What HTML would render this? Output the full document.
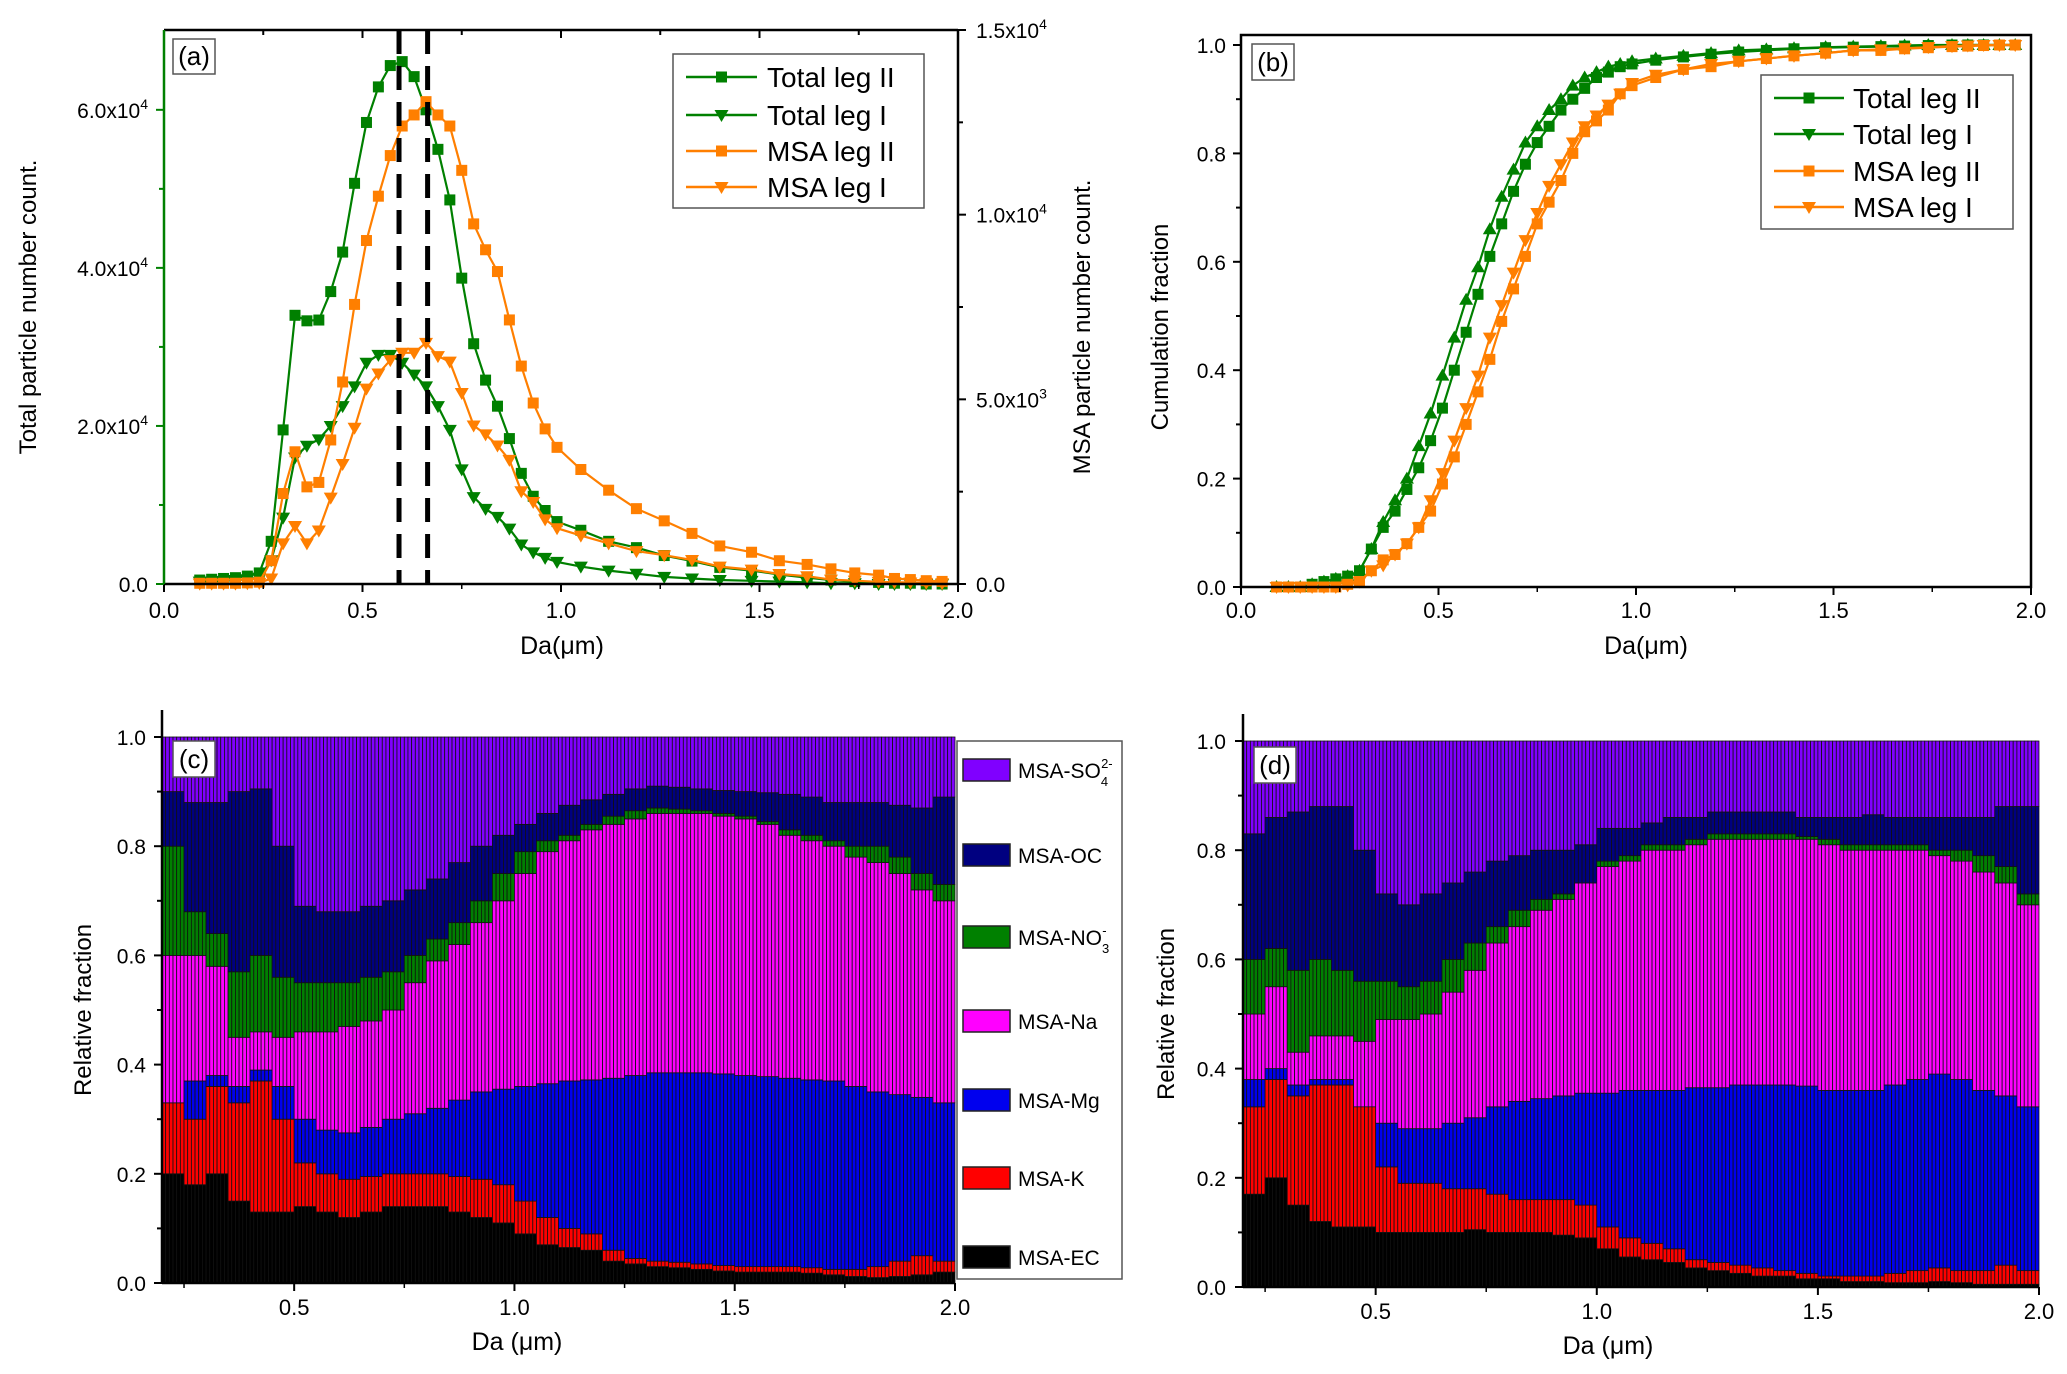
<!DOCTYPE html>
<html><head><meta charset="utf-8"><style>
html,body{margin:0;padding:0;background:#fff;}
svg{display:block;font-family:"Liberation Sans",Arial,sans-serif;}
</style></head><body>
<svg id="root" width="2067" height="1374" viewBox="0 0 2067 1374" xmlns="http://www.w3.org/2000/svg"></svg>
<script>
// ===== Panel (a)/(b) data =====
const daA = [0.09,0.12,0.15,0.18,0.21,0.24,0.27,0.30,0.33,0.36,0.39,0.42,0.45,0.48,0.51,0.54,0.57,0.60,0.63,0.66,0.69,0.72,0.75,0.78,0.81,0.84,0.87,0.90,0.93,0.96,0.99,1.05,1.12,1.19,1.26,1.33,1.40,1.48,1.55,1.62,1.68,1.74,1.80,1.84,1.88,1.92,1.96];
const totalLeg2 = [0.05,0.06,0.07,0.08,0.1,0.14,0.54,1.95,3.4,3.33,3.34,3.7,4.2,5.07,5.84,6.29,6.56,6.61,6.42,6.0,5.5,4.86,3.87,3.04,2.58,2.25,1.84,1.4,1.11,0.93,0.79,0.68,0.54,0.46,0.36,0.29,0.21,0.17,0.12,0.08,0.05,0.03,0.02,0.01,0.01,0,0]; // x1e4
const totalLeg1 = [0.03,0.03,0.04,0.05,0.06,0.08,0.3,0.84,1.6,1.75,1.83,2.0,2.25,2.5,2.8,2.9,2.9,2.8,2.65,2.5,2.25,1.95,1.45,1.1,0.95,0.85,0.7,0.5,0.4,0.33,0.28,0.22,0.17,0.13,0.09,0.07,0.05,0.04,0.03,0.02,0.01,0.01,0,0,0,0,0]; // x1e4
const msaLeg2 = [0.02,0.02,0.02,0.02,0.03,0.05,0.63,2.45,3.58,2.63,2.75,3.9,5.47,7.57,9.3,10.5,11.6,12.4,12.7,13.06,12.7,12.4,11.2,9.75,9.05,8.46,7.15,5.9,4.9,4.2,3.7,3.1,2.54,2.04,1.71,1.37,1.03,0.86,0.63,0.53,0.41,0.30,0.24,0.15,0.12,0.09,0.07]; // x1e3
const msaLeg1 = [0.01,0.01,0.01,0.01,0.02,0.03,0.15,1.1,1.57,1.1,1.45,2.34,3.25,4.23,5.29,5.7,6.06,6.26,6.26,6.53,6.17,6.02,5.17,4.29,4.05,3.75,3.36,2.51,2.22,1.75,1.51,1.31,1.1,0.89,0.78,0.65,0.47,0.39,0.27,0.21,0.12,0.09,0.06,0.05,0.04,0.03,0.02]; // x1e3
const modeLines = [0.592, 0.664];
const cumTotal2 = [0,0,0,0.005,0.01,0.015,0.02,0.03,0.07,0.11,0.14,0.18,0.22,0.27,0.33,0.40,0.47,0.54,0.61,0.67,0.73,0.78,0.82,0.85,0.88,0.90,0.92,0.94,0.95,0.96,0.965,0.972,0.978,0.983,0.987,0.99,0.993,0.995,0.996,0.997,0.998,0.999,1,1,1,1,1];
const cumTotal1 = [0,0,0,0.005,0.01,0.015,0.02,0.03,0.07,0.12,0.16,0.20,0.26,0.32,0.39,0.46,0.53,0.59,0.66,0.72,0.77,0.82,0.85,0.88,0.90,0.925,0.94,0.95,0.96,0.965,0.97,0.975,0.98,0.985,0.99,0.992,0.994,0.996,0.997,0.998,0.999,1,1,1,1,1,1];
const cumMsa2 = [0,0,0,0,0,0,0.005,0.01,0.03,0.05,0.06,0.08,0.11,0.14,0.19,0.24,0.30,0.36,0.42,0.49,0.55,0.61,0.67,0.71,0.75,0.80,0.84,0.86,0.88,0.91,0.925,0.94,0.955,0.96,0.97,0.975,0.98,0.985,0.99,0.99,0.993,0.995,0.997,0.998,0.999,1,1];
const cumMsa1 = [0,0,0,0,0,0,0.003,0.01,0.03,0.04,0.06,0.08,0.11,0.16,0.21,0.27,0.33,0.39,0.46,0.52,0.58,0.64,0.69,0.74,0.78,0.82,0.85,0.87,0.89,0.91,0.93,0.945,0.955,0.965,0.97,0.975,0.98,0.985,0.99,0.992,0.994,0.996,0.998,0.999,1,1,1];

// ===== Panels (c)/(d) data: bar left edges and cumulative boundaries =====
const binStart = [0.20,0.25,0.30,0.35,0.40,0.45,0.50,0.55,0.60,0.65,0.70,0.75,0.80,0.85,0.90,0.95,1.00,1.05,1.10,1.15,1.20,1.25,1.30,1.35,1.40,1.45,1.50,1.55,1.60,1.65,1.70,1.75,1.80,1.85,1.90,1.95];
const cEC  = [.20,.18,.20,.15,.13,.13,.14,.13,.12,.13,.14,.14,.14,.13,.12,.11,.09,.07,.065,.06,.04,.035,.03,.028,.025,.022,.02,.02,.02,.018,.015,.012,.01,.012,.015,.02];
const cK   = [.33,.30,.36,.33,.37,.30,.22,.20,.19,.195,.20,.20,.20,.195,.19,.18,.15,.12,.10,.09,.06,.045,.04,.038,.035,.032,.03,.03,.03,.028,.025,.025,.03,.04,.05,.04];
const cMg  = [.33,.37,.38,.36,.39,.36,.30,.28,.275,.285,.30,.31,.32,.335,.35,.355,.36,.365,.37,.372,.375,.38,.385,.385,.385,.383,.38,.378,.375,.372,.37,.36,.35,.345,.34,.33];
const cNa  = [.60,.60,.58,.45,.46,.45,.46,.46,.47,.48,.50,.55,.59,.62,.66,.70,.75,.79,.81,.83,.84,.85,.86,.86,.86,.855,.85,.84,.82,.81,.80,.78,.77,.75,.72,.70];
const cNO3 = [.80,.68,.64,.57,.60,.56,.55,.55,.55,.56,.57,.60,.63,.66,.70,.75,.79,.81,.82,.84,.855,.865,.87,.868,.865,.86,.855,.845,.83,.82,.81,.80,.80,.78,.75,.73];
const cOC  = [.90,.88,.88,.90,.905,.80,.69,.68,.68,.69,.70,.72,.74,.77,.80,.82,.84,.86,.875,.885,.895,.905,.91,.908,.905,.902,.90,.898,.895,.89,.88,.88,.88,.875,.87,.89];
const dEC  = [.17,.20,.15,.12,.11,.11,.10,.10,.10,.10,.105,.10,.10,.10,.095,.09,.07,.055,.05,.045,.035,.03,.025,.02,.02,.015,.015,.01,.01,.008,.008,.01,.008,.005,.005,.005];
const dK   = [.33,.38,.35,.37,.37,.34,.22,.19,.19,.18,.18,.17,.16,.16,.16,.15,.11,.09,.08,.07,.05,.045,.04,.035,.03,.025,.02,.02,.02,.025,.03,.035,.03,.03,.04,.03];
const dMg  = [.38,.40,.37,.38,.38,.33,.30,.29,.29,.30,.31,.33,.34,.345,.35,.355,.355,.36,.36,.36,.365,.365,.37,.37,.37,.368,.36,.36,.36,.37,.38,.39,.38,.36,.35,.33];
const dNa  = [.50,.55,.43,.46,.46,.45,.49,.49,.50,.54,.58,.63,.66,.69,.71,.74,.77,.78,.80,.80,.81,.82,.82,.82,.82,.82,.81,.80,.80,.80,.80,.79,.78,.76,.74,.70];
const dNO3 = [.60,.62,.58,.60,.58,.56,.56,.55,.56,.60,.63,.66,.69,.71,.72,.74,.78,.79,.81,.81,.82,.83,.83,.83,.83,.825,.82,.81,.81,.81,.81,.80,.80,.79,.77,.72];
const dOC  = [.83,.86,.87,.88,.88,.80,.72,.70,.72,.74,.76,.78,.79,.80,.80,.81,.84,.84,.85,.86,.86,.87,.87,.87,.87,.86,.86,.86,.865,.86,.86,.86,.86,.86,.88,.88];
const compNames = ["MSA-EC","MSA-K","MSA-Mg","MSA-Na","MSA-NO3","MSA-OC","MSA-SO4"];
const compColors = ["#000000","#ff0000","#0000ee","#ff00ff","#008000","#000080","#8000ff"];

const NS="http://www.w3.org/2000/svg";
const root=document.getElementById('root');
function mk(tag,attrs,parent,text){const e=document.createElementNS(NS,tag);for(const k in attrs)e.setAttribute(k,attrs[k]);if(text!==undefined)e.textContent=text;(parent||root).appendChild(e);return e;}
const GREEN="#008000", ORANGE="#ff7f00";

function lin(d0,d1,r0,r1){return v=>r0+(v-d0)/(d1-d0)*(r1-r0);}

function marker(g,shape,x,y,color){
  let e;
  if(shape==='sq'){e=mk('rect',{x:x-5.5,y:y-5.5,width:11,height:11,fill:color},g);}
  else if(shape==='down'){e=mk('polygon',{points:`${x-7},${y-5} ${x+7},${y-5} ${x},${y+7}`,fill:color},g);}
  else {e=mk('polygon',{points:`${x-7},${y+5} ${x+7},${y+5} ${x},${y-7}`,fill:color},g);}
  
  
}
function series(g,xs,ys,xf,yf,color,shape,name){
  const sg=mk('g',{},g);
  
  
  const pts=xs.map((x,i)=>xf(x).toFixed(1)+','+yf(ys[i]).toFixed(1)).join(' ');
  mk('polyline',{points:pts,fill:'none',stroke:color,'stroke-width':2.2},sg);
  xs.forEach((x,i)=>marker(sg,shape,xf(x),yf(ys[i]),color));
}
function xAxis(g,xf,y,ticks,labels,minor,labelY){
  ticks.forEach((t,i)=>{mk('line',{x1:xf(t),x2:xf(t),y1:y,y2:y+8,stroke:'#000','stroke-width':2},g);
    const tl=mk('text',{x:xf(t),y:labelY,'text-anchor':'middle','font-size':22},g,labels[i]);
    });
  minor.forEach(t=>mk('line',{x1:xf(t),x2:xf(t),y1:y,y2:y+5,stroke:'#000','stroke-width':1.5},g));
}
function label(g,x,y,w,h,t){
  const lg=mk('g',{},g);
  
  
  mk('rect',{x:x,y:y,width:w,height:h,fill:'#fff',stroke:'#555','stroke-width':1.5},lg);
  mk('text',{x:x+w/2,y:y+h-9,'text-anchor':'middle','font-size':26},lg,t);
}
function legendLines(g,x0,y0,w,h,ys,textX,lineX0,lineX1,fs){
  const lg=mk('g',{},g);
  
  
  mk('rect',{x:x0,y:y0,width:w,height:h,fill:'#fff',stroke:'#555','stroke-width':1.5},lg);
  const items=[["Total leg II",GREEN,'sq'],["Total leg I",GREEN,'down'],["MSA leg II",ORANGE,'sq'],["MSA leg I",ORANGE,'down']];
  items.forEach((it,i)=>{
    const eg=mk('g',{},lg);
    
    
    mk('line',{x1:lineX0,x2:lineX1,y1:ys[i],y2:ys[i],stroke:it[1],'stroke-width':2.5},eg);
    marker(eg,it[2],(lineX0+lineX1)/2,ys[i],it[1]);
    mk('text',{x:textX,y:ys[i]+10,'font-size':fs},eg,it[0]);
  });
}

// ===== Panel (a) =====
(function(){
  const g=mk('g',{});
  const L=164,R=958,T=30,B=584;
  const xf=lin(0,2,L,R), yl=lin(0,7.01,B,T), yr=lin(0,15,B,T);
  series(g,daA,totalLeg2,xf,yl,GREEN,'sq','total-leg-ii-line');
  series(g,daA,totalLeg1,xf,yl,GREEN,'down','total-leg-i-line');
  series(g,daA,msaLeg2,xf,yr,ORANGE,'sq','msa-leg-ii-line');
  series(g,daA,msaLeg1,xf,yr,ORANGE,'down','msa-leg-i-line');
  modeLines.forEach(v=>{const l=mk('line',{x1:xf(v),x2:xf(v),y1:T,y2:B,stroke:'#000','stroke-width':5,'stroke-dasharray':'24,12'},g);
    });
  mk('line',{x1:L,x2:R,y1:B,y2:B,stroke:'#000','stroke-width':2.5},g);
  mk('line',{x1:L,x2:R,y1:T,y2:T,stroke:'#000','stroke-width':2.5},g);
  mk('line',{x1:L,x2:L,y1:T,y2:B,stroke:GREEN,'stroke-width':2.5},g);
  mk('line',{x1:R,x2:R,y1:T,y2:B,stroke:'#000','stroke-width':2.5},g);
  [0.25,0.5,0.75,1,1.25,1.5,1.75].forEach(t=>mk('line',{x1:xf(t),x2:xf(t),y1:T,y2:T+(t%0.5===0?8:5),stroke:'#000','stroke-width':2},g));
  xAxis(g,xf,B,[0,0.5,1,1.5,2],["0.0","0.5","1.0","1.5","2.0"],[0.25,0.75,1.25,1.75],618);
  [0,2,4,6].forEach(v=>{mk('line',{x1:L-8,x2:L,y1:yl(v),y2:yl(v),stroke:GREEN,'stroke-width':2},g);
    const t=mk('text',{x:148,y:yl(v)+8,'text-anchor':'end','font-size':21},g);
    
    if(v===0)t.textContent='0.0';else{t.appendChild(document.createTextNode(v.toFixed(1)+'x10'));mk('tspan',{dy:-9,'font-size':14},t,'4');}});
  [1,3,5].forEach(v=>mk('line',{x1:L-5,x2:L,y1:yl(v),y2:yl(v),stroke:GREEN,'stroke-width':2},g));
  [0,5,10,15].forEach(v=>{mk('line',{x1:R,x2:R+8,y1:yr(v),y2:yr(v),stroke:'#000','stroke-width':2},g);
    const t=mk('text',{x:976,y:yr(v)+8,'font-size':21},g);
    
    if(v===0)t.textContent='0.0';else{t.appendChild(document.createTextNode((v===5?'5.0':(v/10).toFixed(1))+'x10'));mk('tspan',{dy:-9,'font-size':14},t,v===5?'3':'4');}});
  [2.5,7.5,12.5].forEach(v=>mk('line',{x1:R,x2:R+5,y1:yr(v),y2:yr(v),stroke:'#000','stroke-width':2},g));
  const xt=mk('text',{x:562,y:654,'text-anchor':'middle','font-size':25},g,'Da(μm)');
  const yt=mk('text',{x:0,y:0,'text-anchor':'middle','font-size':24,transform:'translate(36,307) rotate(-90)'},g,'Total particle number count.');
  const yt2=mk('text',{x:0,y:0,'text-anchor':'middle','font-size':24,transform:'translate(1090,327) rotate(-90)'},g,'MSA particle number count.');
  label(g,173,39,42,35,'(a)');
  legendLines(g,673,54,251,154,[77,115,151,187],767,686,757,28);
})();

// ===== Panel (b) =====
(function(){
  const g=mk('g',{});
  const L=1241,R=2031,T=35,B=587;
  const xf=lin(0,2,L,R), yf=lin(0,1,B,45);
  series(g,daA,cumTotal2,xf,yf,GREEN,'sq','total-leg-ii-cumulative');
  series(g,daA,cumTotal1,xf,yf,GREEN,'up','total-leg-i-cumulative');
  series(g,daA,cumMsa2,xf,yf,ORANGE,'sq','msa-leg-ii-cumulative');
  series(g,daA,cumMsa1,xf,yf,ORANGE,'down','msa-leg-i-cumulative');
  mk('rect',{x:L,y:T,width:R-L,height:B-T,fill:'none',stroke:'#000','stroke-width':2.5},g);
  xAxis(g,xf,B,[0,0.5,1,1.5,2],["0.0","0.5","1.0","1.5","2.0"],[0.25,0.75,1.25,1.75],618);
  [0,0.2,0.4,0.6,0.8,1].forEach(v=>{mk('line',{x1:L-8,x2:L,y1:yf(v),y2:yf(v),stroke:'#000','stroke-width':2},g);
    const t=mk('text',{x:1226,y:yf(v)+8,'text-anchor':'end','font-size':21},g,v.toFixed(1));});
  [0.1,0.3,0.5,0.7,0.9].forEach(v=>mk('line',{x1:L-5,x2:L,y1:yf(v),y2:yf(v),stroke:'#000','stroke-width':2},g));
  const xt=mk('text',{x:1646,y:654,'text-anchor':'middle','font-size':25},g,'Da(μm)');
  const yt=mk('text',{x:0,y:0,'text-anchor':'middle','font-size':24,transform:'translate(1168,327) rotate(-90)'},g,'Cumulation fraction');
  label(g,1252,44,42,36,'(b)');
  legendLines(g,1761,75,252,154,[98,134,171,207],1853,1774,1844,28);
})();

// ===== Bar panels (c)/(d) =====
function barPanel(name,L,R,y0,y1,axisTop,bounds,lab,labX,labY,titleX,yTitleX,yLabX,hasLegend){
  const g=mk('g',{});
  const xf=lin(0.2,2.0,L,R), yf=lin(0,1,y0,y1);
  const SUB=6;
  binStart.forEach((x,i)=>{
    const bg=mk('g',{},g);
    
    
    const levels=[0].concat(bounds.map(b=>b[i])).concat([1]);
    const xa=xf(x), xb=xf(Math.min(2,x+0.05));
    const sw=(xb-xa)/SUB;
    for(let k=0;k<7;k++){
      const ya=yf(levels[k+1]), yb=yf(levels[k]);
      if(yb-ya<=0)continue;
      for(let s=0;s<SUB;s++){
        const r=mk('rect',{x:xa+s*sw,y:ya,width:sw,height:yb-ya,fill:compColors[k],stroke:'#111','stroke-width':0.8},bg);
        
        
      }
    }
  });
  mk('line',{x1:L,x2:L,y1:axisTop,y2:y0,stroke:'#000','stroke-width':2.5},g);
  mk('line',{x1:L,x2:R,y1:y0,y2:y0,stroke:'#000','stroke-width':2.5},g);
  xAxis(g,xf,y0,[0.5,1,1.5,2],["0.5","1.0","1.5","2.0"],[0.25,0.75,1.25,1.75],y0+32);
  [0,0.2,0.4,0.6,0.8,1].forEach(v=>{mk('line',{x1:L-8,x2:L,y1:yf(v),y2:yf(v),stroke:'#000','stroke-width':2},g);
    const t=mk('text',{x:yLabX,y:yf(v)+8,'text-anchor':'end','font-size':21},g,v.toFixed(1));});
  [0.1,0.3,0.5,0.7,0.9].forEach(v=>mk('line',{x1:L-5,x2:L,y1:yf(v),y2:yf(v),stroke:'#000','stroke-width':2},g));
  const xt=mk('text',{x:titleX,y:y0+67,'text-anchor':'middle','font-size':25},g,'Da (μm)');
  const yt=mk('text',{x:0,y:0,'text-anchor':'middle','font-size':24,transform:`translate(${yTitleX},${(y0+y1)/2}) rotate(-90)`},g,'Relative fraction');
  label(g,labX,labY,42,36,lab);
  if(hasLegend){
    const lg=mk('g',{});
    mk('rect',{x:957,y:741,width:165,height:538,fill:'#fff',stroke:'#555','stroke-width':1.5},lg);
    const ys=[1257,1178,1100,1021,937,855,770];
    for(let k=0;k<7;k++){
      const eg=mk('g',{},lg);
      
      
      mk('rect',{x:963,y:ys[k]-11,width:47,height:22,fill:compColors[k],stroke:'#222','stroke-width':1.5},eg);
      const t=mk('text',{x:1018,y:ys[k]+8,'font-size':21},eg);
      if(k===4){t.appendChild(document.createTextNode('MSA-NO'));mk('tspan',{dy:8,'font-size':13},t,'3');mk('tspan',{dy:-18,'font-size':13,dx:-7},t,'-');}
      else if(k===6){t.appendChild(document.createTextNode('MSA-SO'));mk('tspan',{dy:8,'font-size':13},t,'4');mk('tspan',{dy:-18,'font-size':13,dx:-7},t,'2-');}
      else t.textContent=compNames[k];
    }
  }
}
barPanel('panel-c',162,955,1283,737,710,[cEC,cK,cMg,cNa,cNO3,cOC],'(c)',173,741,517,91,146,true);
barPanel('panel-d',1243,2039,1287,741,714,[dEC,dK,dMg,dNa,dNO3,dOC],'(d)',1254,747,1608,1174,1226,false);
</script>
</body></html>
